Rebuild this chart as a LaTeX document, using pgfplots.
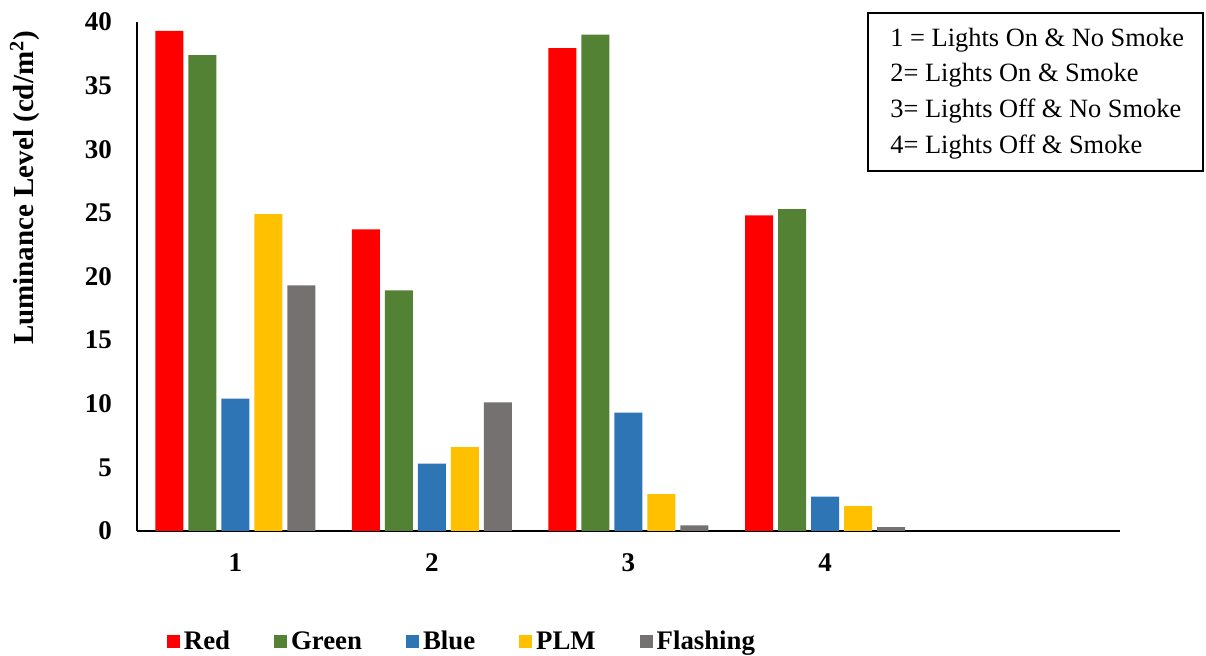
\documentclass[border=0pt]{standalone}
\usepackage{fontspec}
\setmainfont{Liberation Serif}
\usepackage{pgfplots}
\pgfplotsset{compat=1.18}
\definecolor{cRed}{HTML}{FF0000}
\definecolor{cGreen}{HTML}{548235}
\definecolor{cBlue}{HTML}{2E75B6}
\definecolor{cPLM}{HTML}{FFC000}
\definecolor{cFlash}{HTML}{767171}
\pgfplotsset{sqleg/.style={legend image code/.code={\fill[##1] (-1.5pt,-3pt) rectangle (5pt,3.5pt);}}}
\begin{document}
\begin{tikzpicture}
\useasboundingbox (0,0) rectangle (603pt,328pt);
\begin{axis}[
 at={(68.5pt,62.5pt)}, anchor=south west,
 scale only axis, width=491.5pt, height=254.5pt,
 ybar=2.5pt, bar width=14pt,
 xmin=-0.5, xmax=4.5, ymin=0, ymax=40,
 xtick={0,1,2,3}, xticklabels={1,2,3,4},
 ytick={0,5,...,40},
 axis x line*=bottom, axis y line*=left,
 axis line style={line width=1pt, -},
 major tick length=0pt,
 tick label style={font=\fontsize{13.5}{15}\selectfont\bfseries},
 /pgf/number format/assume math mode=true,
 yticklabel style={xshift=-9pt},
 xticklabel style={yshift=-8pt},
 legend columns=5,
 legend style={at={(0.3316,-0.218)}, anchor=center, draw=none, fill=none,
   font=\fontsize{13.4}{15}\selectfont\bfseries,
   /tikz/every even column/.append style={column sep=20pt}},
]
\addplot[fill=cRed, draw=none, sqleg] coordinates {(0,39.3) (1,23.7) (2,37.95) (3,24.8)};
\addplot[fill=cGreen, draw=none, sqleg] coordinates {(0,37.4) (1,18.9) (2,39.0) (3,25.3)};
\addplot[fill=cBlue, draw=none, sqleg] coordinates {(0,10.4) (1,5.3) (2,9.3) (3,2.7)};
\addplot[fill=cPLM, draw=none, sqleg] coordinates {(0,24.9) (1,6.6) (2,2.9) (3,1.95)};
\addplot[fill=cFlash, draw=none, sqleg] coordinates {(0,19.3) (1,10.1) (2,0.45) (3,0.3)};
\legend{Red,Green,Blue,PLM,Flashing}
\end{axis}
\node[rotate=90, font=\fontsize{14.5}{16}\selectfont\bfseries] at (12.5pt,234pt) {Luminance Level (cd/m\textsuperscript{2})};
\draw[line width=0.8pt] (434pt,242.5pt) rectangle (601.5pt,321.5pt);
\begin{scope}[every node/.style={anchor=west, inner sep=0pt, font=\fontsize{13.2}{15}\selectfont}]
\node at (445pt,308pt) {1 = Lights On \& No Smoke};
\node at (445pt,290.5pt) {2= Lights On \& Smoke};
\node at (445pt,272.5pt) {3= Lights Off \& No Smoke};
\node at (445pt,254.5pt) {4= Lights Off \& Smoke};
\end{scope}
\end{tikzpicture}
\end{document}
